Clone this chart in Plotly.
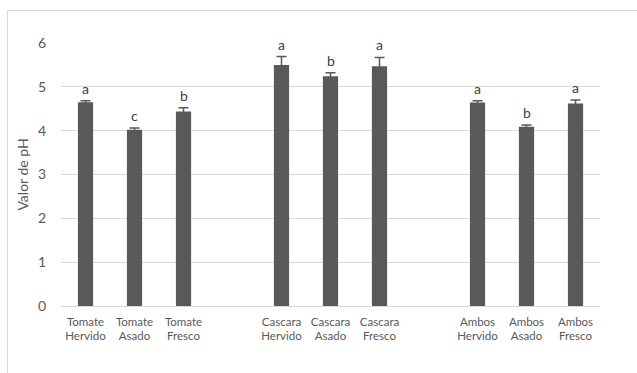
import plotly.graph_objects as go

# pH por tratamiento (media, desviación y letra de significancia)
categorias = ["Tomate<br>Hervido", "Tomate<br>Asado", "Tomate<br>Fresco", "",
              "Cascara<br>Hervido", "Cascara<br>Asado", "Cascara<br>Fresco", "",
              "Ambos<br>Hervido", "Ambos<br>Asado", "Ambos<br>Fresco"]
ph = [4.65, 4.02, 4.44, None, 5.50, 5.24, 5.47, None, 4.64, 4.09, 4.62]
error = [0.03, 0.04, 0.08, None, 0.19, 0.08, 0.20, None, 0.04, 0.04, 0.08]
letras = ["a", "c", "b", "", "a", "b", "a", "", "a", "b", "a"]
y_ticks = [0, 1, 2, 3, 4, 5, 6]

posiciones = list(range(len(categorias)))
gris = "#595959"

fig = go.Figure(go.Bar(
    x=posiciones, y=ph, width=0.31,
    marker=dict(color=gris, line=dict(width=0)),
    error_y=dict(type="data", array=error, visible=True,
                 color=gris, thickness=1.5, width=5),
))

for x, v, e, t in zip(posiciones, ph, error, letras):
    if v is None:
        continue
    fig.add_annotation(x=x, y=v + e, text=t, showarrow=False,
                       yanchor="bottom", yshift=2,
                       font=dict(family="Lato", size=14, color="#404040"))

# marco del área del gráfico
W, H = 637, 373
l, r, t, b = 61, 37, 43, 66.5
pw, ph_px = W - l - r, H - t - b
def px_x(p):
    return (p - l) / pw
def px_y(p):
    return (H - b - p) / ph_px

fig.add_shape(type="line", xref="paper", yref="paper",
              x0=px_x(7.5), x1=px_x(700), y0=px_y(10.5), y1=px_y(10.5),
              line=dict(color="#d9d9d9", width=1))
fig.add_shape(type="line", xref="paper", yref="paper",
              x0=px_x(7.5), x1=px_x(7.5), y0=px_y(10.5), y1=px_y(420),
              line=dict(color="#d9d9d9", width=1))

fig.update_layout(
    width=W, height=H,
    margin=dict(l=l, r=r, t=t, b=b),
    paper_bgcolor="white", plot_bgcolor="white",
    showlegend=False,
    font=dict(family="Lato", color=gris),
    xaxis=dict(range=[-0.5, len(categorias) - 0.5],
               tickvals=posiciones, ticktext=categorias,
               tickfont=dict(size=11.5, color=gris),
               showgrid=False, zeroline=False, showline=False, ticks="",
               ticklabelstandoff=7),
    yaxis=dict(range=[0, 6], tickvals=y_ticks,
               tickfont=dict(size=14, color=gris),
               showgrid=True, gridcolor="#d9d9d9", gridwidth=1,
               zeroline=True, zerolinecolor="#d9d9d9", zerolinewidth=1,
               showline=False, ticks="", ticklabelstandoff=14,
               title=dict(text="Valor de pH", standoff=5,
                          font=dict(size=14, color=gris))),
)

fig.write_html("out.html")
